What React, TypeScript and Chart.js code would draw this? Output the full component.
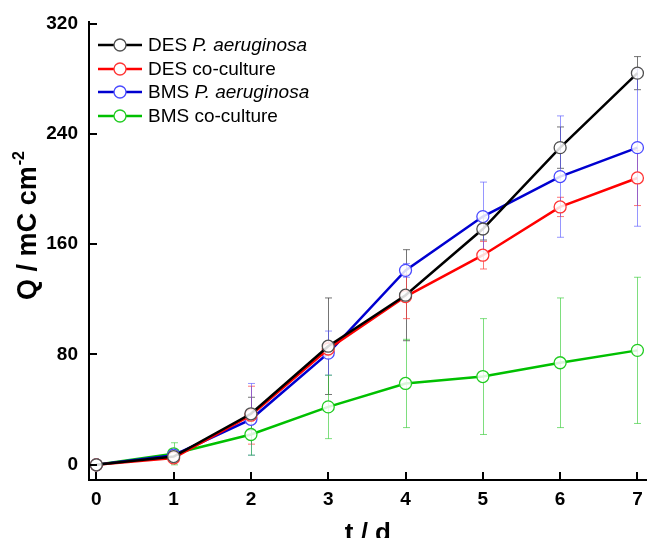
import React, { useEffect, useRef } from 'react';
import { Chart, registerables } from 'chart.js';

Chart.register(...registerables);

const FONT = "'Liberation Sans', Arial, Helvetica, sans-serif";

const days = [0, 1, 2, 3, 4, 5, 6, 7];
const desPa = [0, 6, 37, 86, 123, 171, 230, 284];
const desCo = [0, 5, 36, 84, 122, 152, 187, 208];
const bmsPa = [0, 7, 33, 81, 141, 180, 209, 230];
const bmsCo = [0, 8, 22, 42, 59, 64, 74, 83];

const desPaErr = [0, 2, 12, 35, 33, 8, 15, 12];
const desCoErr = [0, 3, 21, 5, 16, 10, 7, 20];
const bmsPaErr = [0, 3, 26, 16, 5, 25, 44, 57];
const bmsCoErr = [0, 8, 15, 23, 32, 42, 47, 53];

const yTicks = [0, 80, 160, 240, 320];
const xTicks = [0, 1, 2, 3, 4, 5, 6, 7];

const legendPlain = ['DES ', 'DES co-culture', 'BMS ', 'BMS co-culture'];
const legendItalic = ['P. aeruginosa', '', 'P. aeruginosa', ''];

const lineColors = ['#000000', '#ff0000', '#0000d0', '#00c000'];
const pointColors = ['#505050', '#ff3535', '#4a4aff', '#22cc22'];
const errColors = ['rgba(70,70,70,0.75)', 'rgba(255,60,60,0.7)', 'rgba(80,80,255,0.6)', 'rgba(40,200,40,0.6)'];

const seriesValues = [desPa, desCo, bmsPa, bmsCo];
const seriesErrors = [desPaErr, desCoErr, bmsPaErr, bmsCoErr];

const decorPlugin = {
  id: 'decor',
  beforeDatasetsDraw(chart: any) {
    const ctx = chart.ctx;
    const xs = chart.scales.x;
    const ys = chart.scales.y;
    ctx.save();
    ctx.lineWidth = 1;
    seriesValues.forEach((vals, i) => {
      const errs = seriesErrors[i];
      ctx.strokeStyle = errColors[i];
      vals.forEach((v, j) => {
        const e = errs[j];
        if (!e) return;
        const x = Math.round(xs.getPixelForValue(days[j])) + 0.5;
        const yt = ys.getPixelForValue(v + e);
        const yb = ys.getPixelForValue(v - e);
        ctx.beginPath();
        ctx.moveTo(x, yt);
        ctx.lineTo(x, yb);
        ctx.moveTo(x - 3.5, yt);
        ctx.lineTo(x + 3.5, yt);
        ctx.moveTo(x - 3.5, yb);
        ctx.lineTo(x + 3.5, yb);
        ctx.stroke();
      });
    });
    ctx.restore();
  },
  afterDraw(chart: any) {
    const ctx = chart.ctx;
    const xs = chart.scales.x;
    const ys = chart.scales.y;
    const area = chart.chartArea;
    ctx.save();
    // inward ticks
    ctx.strokeStyle = '#000';
    ctx.lineWidth = 2;
    ctx.beginPath();
    yTicks.forEach((v) => {
      const y = Math.round(ys.getPixelForValue(v));
      ctx.moveTo(area.left, y);
      ctx.lineTo(area.left + 8, y);
    });
    xTicks.forEach((v) => {
      const x = Math.round(xs.getPixelForValue(v));
      ctx.moveTo(x, area.bottom);
      ctx.lineTo(x, area.bottom - 8);
    });
    ctx.stroke();

    // legend
    const rows = [45, 69, 92, 116];
    rows.forEach((ry, i) => {
      ctx.strokeStyle = lineColors[i];
      ctx.lineWidth = 2.5;
      ctx.beginPath();
      ctx.moveTo(98, ry);
      ctx.lineTo(142, ry);
      ctx.stroke();
      ctx.fillStyle = '#fff';
      ctx.strokeStyle = pointColors[i];
      ctx.lineWidth = 1.3;
      ctx.beginPath();
      ctx.arc(120, ry, 6, 0, Math.PI * 2);
      ctx.fill();
      ctx.stroke();
      ctx.fillStyle = '#000';
      ctx.textBaseline = 'middle';
      ctx.textAlign = 'left';
      ctx.font = `19px ${FONT}`;
      ctx.fillText(legendPlain[i], 148, ry + 1);
      const w = ctx.measureText(legendPlain[i]).width;
      if (legendItalic[i]) {
        ctx.font = `italic 19px ${FONT}`;
        ctx.fillText(legendItalic[i], 148 + w, ry + 1);
      }
    });

    // x title
    ctx.fillStyle = '#000';
    ctx.font = `bold 26px ${FONT}`;
    ctx.textAlign = 'center';
    ctx.textBaseline = 'alphabetic';
    ctx.fillText('t / d', (area.left + area.right) / 2, 541);

    // y title with superscript
    ctx.translate(36, 226);
    ctx.rotate(-Math.PI / 2);
    const main = 'Q / mC cm';
    const sup = '-2';
    ctx.font = `bold 27px ${FONT}`;
    const w1 = ctx.measureText(main).width;
    ctx.font = `bold 16px ${FONT}`;
    const w2 = ctx.measureText(sup).width;
    const start = -(w1 + w2) / 2;
    ctx.textAlign = 'left';
    ctx.font = `bold 27px ${FONT}`;
    ctx.fillText(main, start, 0);
    ctx.font = `bold 16px ${FONT}`;
    ctx.fillText(sup, start + w1 + 1, -12);
    ctx.restore();
  },
};

export default function App() {
  const ref = useRef<HTMLCanvasElement | null>(null);
  useEffect(() => {
    if (!ref.current) return;
    const datasets = seriesValues.map((vals, i) => ({
      label: legendPlain[i] + legendItalic[i],
      data: vals.map((v, j) => ({ x: days[j], y: v })),
      borderColor: lineColors[i],
      borderWidth: 2.5,
      pointRadius: 6,
      pointBorderWidth: 1.3,
      pointBorderColor: pointColors[i],
      pointBackgroundColor: 'rgba(255,255,255,0.85)',
      tension: 0,
      fill: false,
    }));
    const chart = new Chart(ref.current, {
      type: 'line',
      data: { datasets },
      options: {
        animation: false,
        responsive: false,
        layout: { padding: { top: 22, right: 4, left: 0, bottom: 0 } },
        plugins: { legend: { display: false }, tooltip: { enabled: false } },
        scales: {
          x: {
            type: 'linear',
            min: -0.095,
            max: 7.12,
            afterBuildTicks: (s: any) => {
              s.ticks = xTicks.map((v) => ({ value: v }));
            },
            afterFit: (s: any) => {
              s.height = 58;
            },
            ticks: {
              color: '#000',
              font: { family: FONT, size: 19, weight: 'bold' },
              padding: 8,
              autoSkip: false,
              maxRotation: 0,
            },
            grid: { display: false, drawTicks: false },
            border: { display: true, color: '#000', width: 2 },
          },
          y: {
            type: 'linear',
            min: -11,
            max: 320.8,
            afterBuildTicks: (s: any) => {
              s.ticks = yTicks.map((v) => ({ value: v }));
            },
            afterFit: (s: any) => {
              s.width = 89;
            },
            ticks: {
              color: '#000',
              font: { family: FONT, size: 19, weight: 'bold' },
              padding: 11,
              autoSkip: false,
            },
            grid: { display: false, drawTicks: false },
            border: { display: true, color: '#000', width: 2 },
          },
        },
      },
      plugins: [decorPlugin],
    } as any);
    return () => chart.destroy();
  }, []);
  return (
    <div style={{ position: 'absolute', left: 0, top: 0, width: 654, height: 538, background: '#fff' }}>
      <canvas ref={ref} width={654} height={538} />
    </div>
  );
}
